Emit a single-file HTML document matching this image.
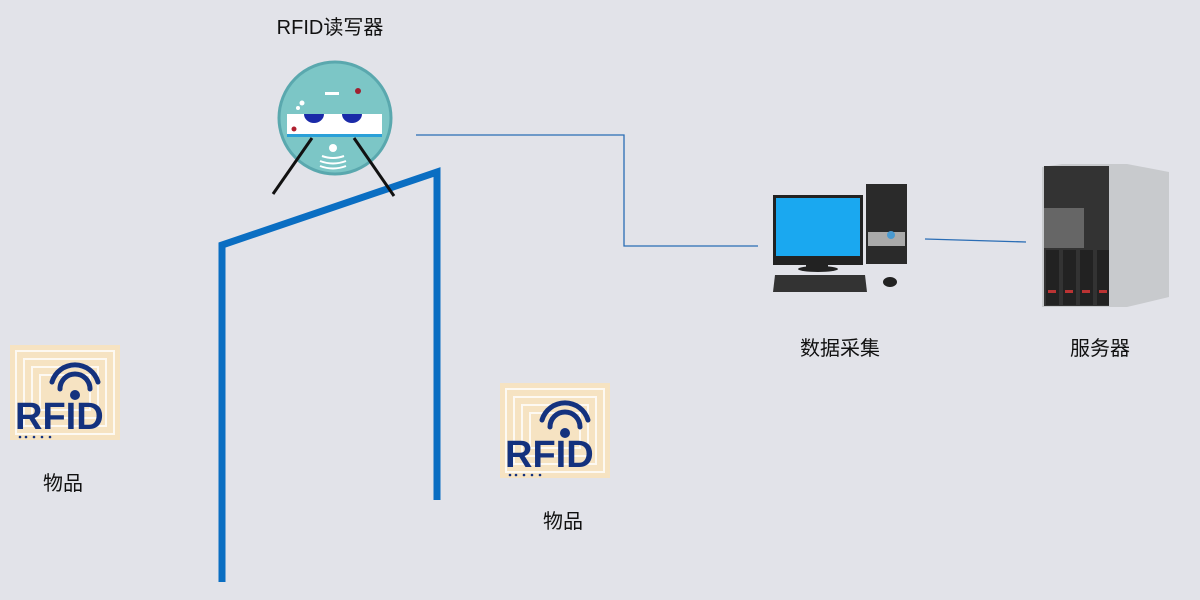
<!DOCTYPE html>
<html><head><meta charset="utf-8"><style>
html,body{margin:0;padding:0;background:#e2e3e9;}
svg{display:block}
text{font-family:"Liberation Sans","Noto Sans CJK SC",sans-serif;font-size:20px;fill:#111;}
</style></head><body>
<svg width="1200" height="600" viewBox="0 0 1200 600" xmlns="http://www.w3.org/2000/svg">
<rect width="1200" height="600" fill="#e2e3e9"/>
<defs>
<g id="tag">
  <rect x="0" y="0" width="110" height="95" fill="#f6e3c2"/>
  <g fill="none" stroke="#fff" stroke-width="2" opacity="0.8">
    <rect x="6" y="6" width="98" height="83"/><rect x="14" y="14" width="82" height="67"/><rect x="22" y="22" width="66" height="51"/><rect x="30" y="30" width="50" height="35"/>
  </g>
  <g fill="none" stroke="#14327e" stroke-width="5" stroke-linecap="round">
    <path d="M42 37 A24 24 0 0 1 88 37"/><path d="M50 44 A15 15 0 0 1 80 44"/>
  </g>
  <circle cx="65" cy="50" r="5" fill="#14327e"/>
  <text x="5" y="84" style="font-size:38px;font-weight:bold;fill:#14327e">RFID</text>
  <g fill="#14327e"><circle cx="10" cy="92" r="1.3"/><circle cx="16" cy="92" r="1.3"/><circle cx="24" cy="92" r="1.3"/><circle cx="32" cy="92" r="1.3"/><circle cx="40" cy="92" r="1.3"/></g>
</g>
</defs>
<!-- connectors -->
<polyline points="416,135 624,135 624,246 758,246" fill="none" stroke="#2a6db5" stroke-width="1.3"/>
<line x1="925" y1="239" x2="1026" y2="242" stroke="#2a6db5" stroke-width="1.3"/>
<!-- gate -->
<polyline points="222,582 222,245 437,172 437,500" fill="none" stroke="#0a6ec2" stroke-width="7"/>
<!-- reader -->
<circle cx="335" cy="118" r="56" fill="#7cc6c6"/>
<circle cx="335" cy="118" r="56" fill="none" stroke="#5aa8ae" stroke-width="3"/>
<rect x="325" y="92" width="14" height="3" fill="#fff"/>
<circle cx="358" cy="91" r="3" fill="#a02030"/>
<circle cx="302" cy="103" r="2.5" fill="#fff"/><circle cx="298" cy="108" r="2" fill="#fff"/>
<rect x="287" y="114" width="95" height="20" fill="#fff"/>
<rect x="287" y="134" width="95" height="3" fill="#2aa0d8"/>
<path d="M304 114 a10 9 0 0 0 20 0z" fill="#1a2aa8"/>
<path d="M342 114 a10 9 0 0 0 20 0z" fill="#1a2aa8"/>
<circle cx="294" cy="129" r="2.5" fill="#b02030"/>
<circle cx="333" cy="148" r="4" fill="#fff"/>
<g fill="none" stroke="#fff" stroke-width="2"><path d="M322 156 q11 4 22 0"/><path d="M320 161 q13 5 26 0"/><path d="M320 166 q13 5 26 0"/></g>
<line x1="312" y1="138" x2="273" y2="194" stroke="#111" stroke-width="3"/>
<line x1="354" y1="138" x2="394" y2="196" stroke="#111" stroke-width="3"/>
<text x="330" y="34" text-anchor="middle">RFID读写器</text>
<!-- tags -->
<use href="#tag" x="10" y="345"/>
<use href="#tag" x="500" y="383"/>
<text x="63" y="490" text-anchor="middle">物品</text>
<text x="563" y="528" text-anchor="middle">物品</text>
<!-- PC -->
<rect x="773" y="195" width="90" height="70" fill="#222"/>
<rect x="776" y="198" width="84" height="58" fill="#1aa8f0"/>
<rect x="806" y="265" width="22" height="4" fill="#222"/>
<ellipse cx="818" cy="269" rx="20" ry="3" fill="#222"/>
<rect x="866" y="184" width="41" height="80" fill="#2a2a2a"/>
<rect x="868" y="232" width="37" height="14" fill="#aaa"/>
<circle cx="891" cy="235" r="4" fill="#4a9ad0"/>
<path d="M775 275 h90 l2 17 h-94z" fill="#333"/>
<ellipse cx="890" cy="282" rx="7" ry="5" fill="#222"/>
<text x="840" y="355" text-anchor="middle">数据采集</text>
<!-- server -->
<path d="M1042 167 l20 -3 h65 l42 8 v125 l-42 10 h-85z" fill="#c8cacd"/>
<rect x="1044" y="166" width="65" height="140" fill="#333"/>
<rect x="1044" y="208" width="40" height="40" fill="#666"/>
<g fill="#222"><rect x="1046" y="250" width="13" height="55"/><rect x="1063" y="250" width="13" height="55"/><rect x="1080" y="250" width="13" height="55"/><rect x="1097" y="250" width="12" height="55"/></g>
<g fill="#b33"><rect x="1048" y="290" width="8" height="3"/><rect x="1065" y="290" width="8" height="3"/><rect x="1082" y="290" width="8" height="3"/><rect x="1099" y="290" width="8" height="3"/></g>
<text x="1100" y="355" text-anchor="middle">服务器</text>
</svg>
</body></html>
